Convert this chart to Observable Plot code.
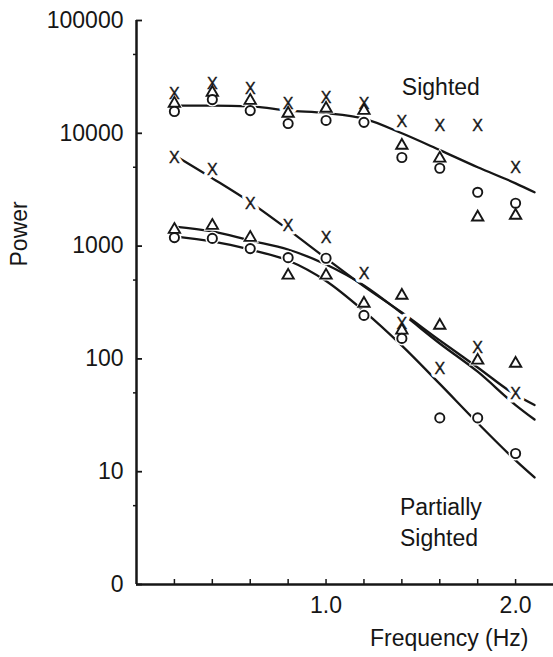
<!DOCTYPE html>
<html><head><meta charset="utf-8">
<script src="https://cdn.jsdelivr.net/npm/d3@7"></script>
<script src="https://cdn.jsdelivr.net/npm/@observablehq/plot@0.6"></script>
<style>
html,body{margin:0;padding:0;background:#fff;}
#chart svg{display:block;}
</style></head><body><div id="chart"></div>
<script>
// ---- data ----
const freq = [0.2, 0.4, 0.6, 0.8, 1.0, 1.2, 1.4, 1.6, 1.8, 2.0];
const sightedCross    = [22500, 27600, 24900, 18400, 20800, 18400, 12500, 11700, 11700, 4900];
const sightedTriangle = [18400, 23000, 19500, 15000, 16600, 15900, 7800, 6000, 1800, 1870];
const sightedCircle   = [15600, 19900, 15900, 12200, 13000, 12500, 6100, 4900, 3000, 2400];
const partialCross    = [6100, 4780, 2390, 1520, 1190, 570, 206, 82, 124, 49];
const partialTriangle = [1400, 1520, 1190, 550, 550, 310, 365, 198, 97, 91];
const partialCircle   = [1190, 1170, 950, 790, 780, 243, 152, 30, 30, 14.5];
const partialTriangleExtraFreq = [1.4];
const partialTriangleExtra     = [179];

const fitFreq = [0.2, 0.4, 0.6, 0.8, 1.0, 1.2, 1.4, 1.6, 1.8, 2.0, 2.1];
const sightedFit         = [17600, 17600, 17300, 15900, 15100, 13500, 10000, 7100, 5000, 3600, 3000];
const partialCrossFit    = [6400, 4000, 2450, 1400, 780, 440, 258, 146, 84, 48, 39];
const partialTriangleFit = [1490, 1350, 1120, 933, 687, 448, 253, 137, 77, 39, 29];
const partialCircleFit   = [1220, 1100, 930, 745, 490, 265, 131, 60, 27, 12.6, 8.9];

const yTicks = [1, 10, 100, 1000, 10000, 100000];
const yMinorTicks = [5, 50, 500, 5000, 50000];
const xTicks = [0.2, 0.4, 0.6, 0.8, 1.0, 1.2, 1.4, 1.6, 1.8, 2.0];
const xLabelTicks = [1.0, 2.0];

const groupLabels = ["Sighted", "Partially\nSighted"];
const groupLabelFreq = [1.40, 1.39];
const groupLabelPower = [26500, 3.7];

// ---- drawing ----
const W = 553, H = 657, ML = 136, MR = 0, MT = 20, MB = 73;
const frameW = W - ML - MR, frameH = H - MT - MB;
const ink = "#161616";
const fitLine = (vals) => Plot.line(vals, {x: fitFreq, y: vals, curve: "monotone-x", stroke: ink, strokeWidth: 2.3});
const crossHalo = (f, v) => Plot.text(v, {x: f, y: v, text: () => "X", fontSize: 16, fill: "white", stroke: "white", strokeWidth: 7, strokeLinejoin: "round"});
const crossMark = (f, v) => Plot.text(v, {x: f, y: v, text: () => "X", fontSize: 16, fill: ink, stroke: ink, strokeWidth: 0.4});
const dotHalo = (f, v, symbol) => Plot.dot(v, {x: f, y: v, symbol, r: symbol === "circle" ? 7 : 6.5, fill: "white", stroke: "none"});
const dotMark = (f, v, symbol) => Plot.dot(v, {x: f, y: v, symbol, r: symbol === "circle" ? 4.6 : 4.2, fill: "white", stroke: ink, strokeWidth: 1.9});

const chart = Plot.plot({
  width: W,
  height: H,
  marginLeft: ML,
  marginRight: MR,
  marginTop: MT,
  marginBottom: MB,
  style: {fontFamily: "'Liberation Sans', Arial, sans-serif", fontSize: "23px", color: ink, background: "#fff"},
  x: {domain: [0, 2.2]},
  y: {type: "log", domain: [1, 100000]},
  marks: [
    // axes: labels
    Plot.axisY(yTicks, {tickSize: 0, tickPadding: 13, tickFormat: d => d === 1 ? "0" : String(d), label: null}),
    Plot.axisX(xLabelTicks, {tickSize: 0, tickPadding: 12, tickFormat: d3.format(".1f"), label: null}),
    // axes: inward major ticks, small outward minor ticks
    Plot.tickY(yTicks, {y: d => d, insetRight: frameW - 6, stroke: ink, strokeWidth: 1.8}),
    Plot.tickY(yMinorTicks, {y: d => d, insetLeft: -3, insetRight: frameW, stroke: ink, strokeWidth: 1.5}),
    Plot.tickX(xTicks, {x: d => d, insetTop: frameH - 5, stroke: ink, strokeWidth: 1.5}),
    Plot.ruleX([0], {stroke: ink, strokeWidth: 2.5}),
    Plot.ruleY([1], {stroke: ink, strokeWidth: 2.5}),
    // fitted curves
    fitLine(sightedFit),
    fitLine(partialCrossFit),
    fitLine(partialTriangleFit),
    fitLine(partialCircleFit),
    // knockouts behind markers
    crossHalo(freq, sightedCross),
    crossHalo(freq, partialCross),
    dotHalo(freq, sightedTriangle, "triangle"),
    dotHalo(freq, partialTriangle, "triangle"),
    dotHalo(partialTriangleExtraFreq, partialTriangleExtra, "triangle"),
    dotHalo(freq, sightedCircle, "circle"),
    dotHalo(freq, partialCircle, "circle"),
    // markers
    crossMark(freq, sightedCross),
    crossMark(freq, partialCross),
    dotMark(freq, sightedTriangle, "triangle"),
    dotMark(freq, partialTriangle, "triangle"),
    dotMark(partialTriangleExtraFreq, partialTriangleExtra, "triangle"),
    dotMark(freq, sightedCircle, "circle"),
    dotMark(freq, partialCircle, "circle"),
    // group labels
    Plot.text(groupLabels, {x: groupLabelFreq, y: groupLabelPower, text: d => d, textAnchor: "start", lineHeight: 1.35, fill: ink}),
    // axis titles
    Plot.text(["Power"], {frameAnchor: "left", dx: -117, dy: -36, rotate: -90, fill: ink}),
    Plot.text(["Frequency (Hz)"], {frameAnchor: "bottom-right", textAnchor: "end", dx: -25, dy: 61, fill: ink})
  ]
});
document.getElementById("chart").appendChild(chart);
</script>
</body></html>
